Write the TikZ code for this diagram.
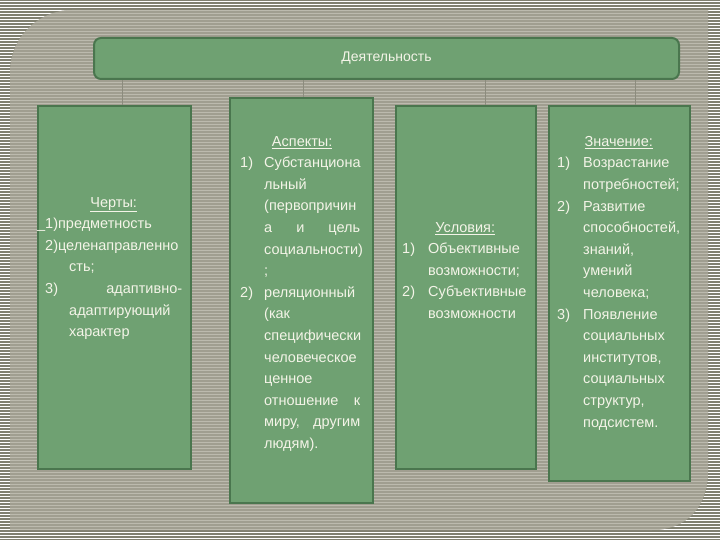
\documentclass[tikz,border=0pt]{standalone}
\usepackage{fontspec}
\setmainfont{Liberation Sans}
\usepackage{tikz}
\usetikzlibrary{positioning}

\definecolor{outerdark}{RGB}{128,128,112}
\definecolor{innergray}{RGB}{160,158,144}
\definecolor{innerline}{RGB}{188,186,174}
\definecolor{boxfill}{RGB}{111,161,114}
\definecolor{boxedge}{RGB}{74,118,78}
\definecolor{textcol}{RGB}{244,244,232}
\definecolor{linkcol}{RGB}{140,140,126}

\newcommand{\num}[1]{\makebox[24pt][l]{#1}}
\newcommand{\ind}{\hspace*{24pt}}
\newcommand{\numb}[1]{\makebox[26pt][l]{#1}}
\newcommand{\indb}{\hspace*{26pt}}
\newcommand{\head}[1]{\makebox[\linewidth]{\underline{#1}}}

\begin{document}
\begin{tikzpicture}
	[x=1pt, y=-1pt,
	 box/.style = {draw=boxedge, fill=boxfill, line width=1.6pt, anchor=north west, inner sep=0pt},
	 title/.style = {draw=boxedge, fill=boxfill, line width=2pt, rounded corners=7pt, anchor=north west, inner sep=0pt,
	                 text=textcol, font=\fontsize{14}{16}\selectfont},
	 txt/.style = {text=textcol, anchor=north west, inner sep=0pt, align=left,
	               font=\fontsize{14.5}{21.6}\selectfont},
	 link/.style = {draw=linkcol, line width=1pt}]
	\useasboundingbox (0,0) rectangle (720,540);
	% striped background
	\fill[outerdark] (0,0) rectangle (720,540);
	\foreach \y in {1.5,4.5,...,540} \draw[white, line width=1.4pt] (0,\y) -- (720,\y);
	\fill[innergray] (10,530) -- (10,72) .. controls (10,38) and (38,10) .. (72,10) -- (708,10) -- (708,472) .. controls (708,505) and (688,530) .. (652,530) -- cycle;
	\begin{scope}
		\clip (10,530) -- (10,72) .. controls (10,38) and (38,10) .. (72,10) -- (708,10) -- (708,472) .. controls (708,505) and (688,530) .. (652,530) -- cycle;
		\foreach \y in {1.5,4.5,...,540} \draw[innerline, line width=1.1pt] (0,\y) -- (720,\y);
	\end{scope}

	% boxes
	\node[title, minimum width=585pt, minimum height=41pt] (top) at (93,37) {Деятельность};
	\node[box, minimum width=153pt, minimum height=363pt] (b1) at (37,105) {};
	\node[box, minimum width=143pt, minimum height=405pt] (b2) at (229,97) {};
	\node[box, minimum width=140pt, minimum height=363pt] (b3) at (395,105) {};
	\node[box, minimum width=141pt, minimum height=375pt] (b4) at (548,105) {};

	% connectors
	\coordinate (c1) at (122,80);
	\coordinate (c2) at (303,80);
	\coordinate (c3) at (485,80);
	\coordinate (c4) at (635,80);
	\draw[link] (c1 |- top.south) -- (c1 |- b1.north);
	\draw[link] (c2 |- top.south) -- (c2 |- b2.north);
	\draw[link] (c3 |- top.south) -- (c3 |- b3.north);
	\draw[link] (c4 |- top.south) -- (c4 |- b4.north);

	% texts
	\node[txt, text width=137pt] (t1) at ([xshift=8pt, yshift=-92pt]b1.north west) {%
		\head{Черты:}\\
		\leavevmode\llap{\_}1)предметность\\
		2)целенаправленно\\
		\ind сть;\\
		\makebox[\linewidth][s]{3)\hfill адаптивно-}\\
		\ind адаптирующий\\
		\ind характер};
	\node[txt, text width=124pt] (t2) at ([xshift=11pt, yshift=-39pt]b2.north west) {%
		\head{Аспекты:}\\
		\num{1)}Субстанциона\\
		\ind льный\\
		\ind (первопричин\\
		\ind\makebox[96pt][s]{а\hfill и\hfill цель}\\
		\ind социальности)\\
		\ind ;\\
		\num{2)}реляционный\\
		\ind (как\\
		\ind специфически\\
		\ind человеческое\\
		\ind ценное\\
		\ind\makebox[96pt][s]{отношение\hfill к}\\
		\ind\makebox[96pt][s]{миру,\hfill другим}\\
		\ind людям).};
	\node[txt, text width=126pt] (t3) at ([xshift=7pt, yshift=-117pt]b3.north west) {%
		\head{Условия:}\\
		\numb{1)}Объективные\\
		\indb возможности;\\
		\numb{2)}Субъективные\\
		\indb возможности};
	\node[txt, text width=123pt] (t4) at ([xshift=9pt, yshift=-31pt]b4.north west) {%
		\head{Значение:}\\
		\numb{1)}Возрастание\\
		\indb потребностей;\\
		\numb{2)}Развитие\\
		\indb способностей,\\
		\indb знаний,\\
		\indb умений\\
		\indb человека;\\
		\numb{3)}Появление\\
		\indb социальных\\
		\indb институтов,\\
		\indb социальных\\
		\indb структур,\\
		\indb подсистем.};
\end{tikzpicture}
\end{document}
